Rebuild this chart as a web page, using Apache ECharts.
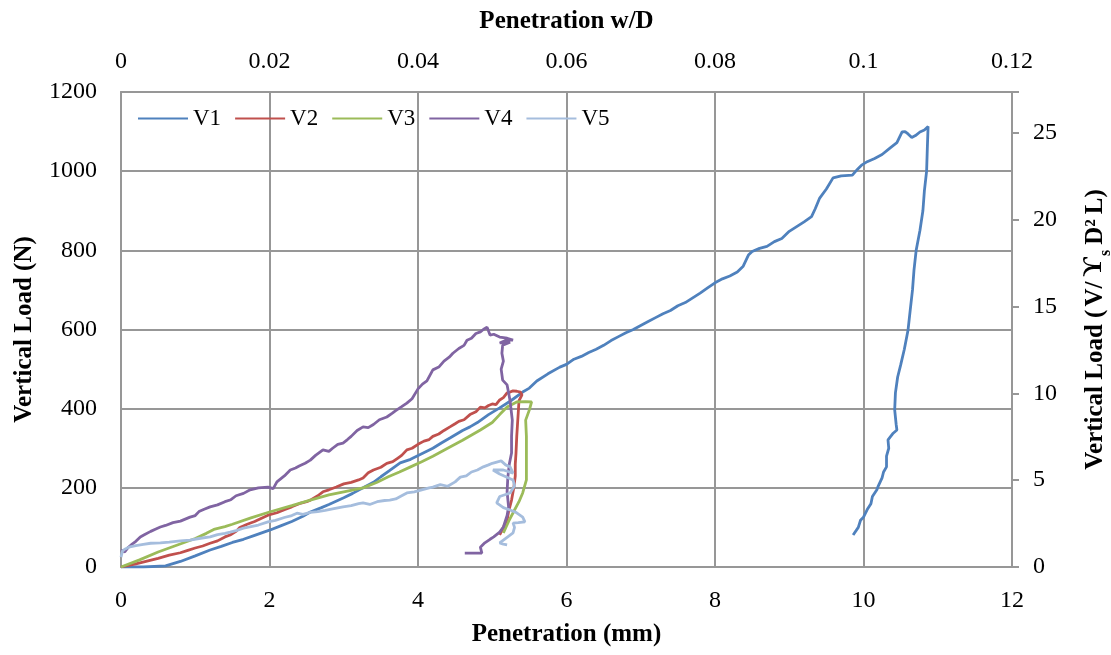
<!DOCTYPE html>
<html>
<head>
<meta charset="utf-8">
<script src="https://cdn.jsdelivr.net/npm/echarts@6/dist/echarts.min.js"></script>
<style>html,body{margin:0;padding:0;background:#fff}#c{width:1111px;height:655px}</style>
</head>
<body>
<div id="c"></div>
<script>
// Each point: [penetration (mm), vertical load (N)]
const v1 = [[0,0],[0.3,0],[0.6,3],[0.8,14],[1.0,28],[1.2,43],[1.35,52],[1.5,62],[1.65,70],[1.8,80],[2.0,93],[2.15,104],[2.3,115],[2.45,128],[2.55,139],[2.7,150],[2.8,158],[3.0,175],[3.12,186],[3.26,200],[3.4,214],[3.5,228],[3.62,244],[3.76,263],[3.9,272],[4.05,286],[4.2,300],[4.32,314],[4.43,326],[4.6,345],[4.7,354],[4.8,365],[4.95,385],[5.1,402],[5.25,420],[5.41,442],[5.5,452],[5.6,470],[5.75,488],[5.91,505],[6.0,512],[6.1,525],[6.2,532],[6.3,542],[6.4,550],[6.5,560],[6.6,572],[6.7,582],[6.8,592],[6.9,600],[7.0,610],[7.1,620],[7.2,630],[7.3,640],[7.4,648],[7.5,660],[7.6,668],[7.7,680],[7.8,692],[7.9,705],[8.0,718],[8.1,728],[8.2,735],[8.3,745],[8.38,760],[8.45,788],[8.5,797],[8.6,805],[8.7,810],[8.8,822],[8.9,830],[9.0,848],[9.1,860],[9.2,872],[9.3,885],[9.35,905],[9.41,932],[9.5,955],[9.59,983],[9.7,988],[9.85,990],[9.92,1005],[9.98,1016],[10.05,1024],[10.15,1032],[10.25,1042],[10.36,1059],[10.45,1072],[10.52,1099],[10.56,1100],[10.6,1094],[10.65,1085],[10.7,1090],[10.76,1099],[10.82,1104],[10.87,1113],[10.86,1060],[10.85,1000],[10.82,950],[10.8,900],[10.76,850],[10.71,801],[10.68,750],[10.66,700],[10.63,650],[10.6,599],[10.55,550],[10.5,510],[10.46,480],[10.43,440],[10.42,397],[10.44,360],[10.45,346],[10.4,338],[10.33,321],[10.34,300],[10.31,280],[10.31,253],[10.27,240],[10.25,225],[10.2,205],[10.18,195],[10.12,178],[10.1,160],[10.05,145],[10.0,126],[9.96,118],[9.93,100],[9.86,81]];

const v2 = [[0,0],[0.1,4],[0.2,8],[0.35,15],[0.5,22],[0.65,30],[0.8,36],[0.9,42],[1.0,48],[1.1,53],[1.2,60],[1.3,66],[1.4,76],[1.47,81],[1.55,90],[1.6,100],[1.7,108],[1.8,115],[1.9,124],[1.98,131],[2.1,137],[2.2,145],[2.3,152],[2.4,160],[2.5,165],[2.55,169],[2.65,180],[2.72,190],[2.8,195],[2.9,202],[3.0,210],[3.1,214],[3.2,220],[3.26,225],[3.33,238],[3.4,245],[3.5,252],[3.58,262],[3.66,266],[3.72,274],[3.78,282],[3.85,296],[3.92,300],[4.0,310],[4.08,318],[4.15,322],[4.2,330],[4.28,336],[4.35,345],[4.43,354],[4.5,362],[4.55,368],[4.62,372],[4.7,385],[4.78,392],[4.84,404],[4.9,402],[4.95,408],[5.0,412],[5.05,410],[5.1,422],[5.15,428],[5.2,440],[5.24,442],[5.28,445],[5.33,444],[5.38,442],[5.4,435],[5.36,420],[5.35,389],[5.34,360],[5.33,330],[5.32,288],[5.31,260],[5.31,230],[5.29,200],[5.26,169],[5.22,140],[5.2,119],[5.15,100],[5.1,81]];

const v3 = [[0,0],[0.25,18],[0.5,38],[0.75,55],[1.0,72],[1.15,85],[1.25,95],[1.4,102],[1.5,108],[1.75,124],[2.0,139],[2.3,155],[2.55,169],[2.8,182],[3.0,190],[3.26,200],[3.45,214],[3.6,228],[3.75,240],[3.9,253],[4.05,266],[4.2,280],[4.43,303],[4.6,320],[4.84,346],[5.0,365],[5.1,385],[5.2,404],[5.33,417],[5.45,418],[5.53,417],[5.5,397],[5.45,371],[5.46,330],[5.46,300],[5.46,260],[5.46,220],[5.41,187],[5.36,165],[5.3,144],[5.22,115],[5.15,86]];

const v4 = [[0,43],[0.05,38],[0.1,50],[0.15,58],[0.2,65],[0.26,76],[0.32,82],[0.4,90],[0.47,96],[0.53,101],[0.6,105],[0.7,112],[0.8,116],[0.93,126],[1.0,130],[1.05,140],[1.12,146],[1.2,152],[1.3,157],[1.4,165],[1.48,170],[1.55,180],[1.65,186],[1.74,195],[1.85,200],[1.98,202],[2.05,198],[2.1,215],[2.2,230],[2.28,245],[2.35,250],[2.4,255],[2.48,262],[2.55,270],[2.62,282],[2.72,296],[2.8,292],[2.85,300],[2.92,310],[2.99,313],[3.05,322],[3.1,330],[3.18,345],[3.26,354],[3.33,352],[3.4,360],[3.48,372],[3.58,379],[3.65,388],[3.7,395],[3.78,405],[3.85,414],[3.92,425],[4.0,450],[4.06,462],[4.12,470],[4.2,498],[4.28,505],[4.35,520],[4.42,530],[4.47,540],[4.55,552],[4.62,560],[4.66,573],[4.72,578],[4.78,590],[4.84,594],[4.88,600],[4.93,606],[4.97,586],[5.02,588],[5.1,581],[5.2,578],[5.28,573],[5.2,574],[5.1,566],[5.24,568],[5.14,560],[5.13,540],[5.15,520],[5.12,500],[5.14,472],[5.2,460],[5.22,440],[5.24,420],[5.27,371],[5.26,330],[5.26,288],[5.23,260],[5.21,227],[5.2,190],[5.22,152],[5.2,130],[5.15,101],[5.1,88],[5.02,76],[4.97,70],[4.9,61],[4.84,50],[4.86,35],[4.84,38],[4.75,35],[4.63,35]];

const v5 = [[0,25],[0.02,40],[0.05,45],[0.12,51],[0.2,54],[0.3,57],[0.4,60],[0.53,61],[0.65,63],[0.8,66],[0.93,68],[1.05,72],[1.2,76],[1.3,82],[1.4,85],[1.47,88],[1.55,92],[1.65,98],[1.75,102],[1.85,106],[1.98,114],[2.08,118],[2.2,125],[2.3,130],[2.37,136],[2.45,133],[2.55,138],[2.65,140],[2.75,143],[2.85,147],[2.99,152],[3.1,155],[3.2,160],[3.26,162],[3.35,158],[3.45,165],[3.55,168],[3.62,169],[3.7,172],[3.78,180],[3.85,187],[3.95,190],[4.05,195],[4.15,200],[4.2,202],[4.3,208],[4.4,204],[4.5,215],[4.57,227],[4.65,230],[4.72,240],[4.8,245],[4.88,253],[4.95,258],[5.0,262],[5.06,265],[5.12,268],[5.18,258],[5.24,253],[5.28,237],[5.15,245],[5.01,245],[5.1,235],[5.28,220],[5.3,205],[5.24,187],[5.1,178],[5.06,162],[5.15,150],[5.24,144],[5.32,138],[5.41,126],[5.44,114],[5.35,112],[5.28,111],[5.3,100],[5.28,86],[5.2,75],[5.1,61],[5.15,58],[5.2,56]];

const names  = ['V1','V2','V3','V4','V5'];
const colors = ['#4F81BD','#C0504D','#9BBB59','#8064A2','#A5BDDD'];
const dataSets = [v1, v2, v3, v4, v5];
const bottomTicks = {min: 0, max: 12, interval: 2};
const topTicks = {min: 0, max: 0.12, interval: 0.02};
const leftTicks = {min: 0, max: 1200, interval: 200};
const rightTicks = {min: 0, max: 27.36, interval: 5};

const FONT = 'Liberation Serif';
const GRID = '#979797';

const chart = echarts.init(document.getElementById('c'), null, {renderer: 'canvas'});
const series = names.map((n, i) => ({
  name: n, type: 'line', xAxisIndex: 0, yAxisIndex: 0,
  data: dataSets[i],
  showSymbol: false, symbol: 'none', smooth: false,
  lineStyle: {color: colors[i], width: 2.8},
  itemStyle: {color: colors[i]},
  animation: false
}));

const lineStyle = {color: GRID, width: 2};
const tok = (size, pad) => ({fontFamily: FONT, fontSize: size, fontWeight: 'bold', color: '#000',
  lineHeight: 28, verticalAlign: 'bottom', padding: pad});

chart.setOption({
  animation: false,
  backgroundColor: '#fff',
  grid: {left: 121, right: 99, top: 92, bottom: 88, containLabel: false, outerBoundsMode: 'none'},
  legend: {
    data: names, left: 133, top: 102, itemWidth: 50, itemHeight: 14, itemGap: 14,
    icon: 'path://M0,6L50,6L50,8L0,8Z',
    textStyle: {fontFamily: FONT, fontSize: 23, color: '#000'}
  },
  xAxis: [{
    type: 'value', position: 'bottom', ...bottomTicks,
    name: 'Penetration (mm)', nameLocation: 'middle', nameGap: 55,
    nameTextStyle: {fontFamily: FONT, fontSize: 25, fontWeight: 'bold', color: '#000'},
    axisLine: {show: true, onZero: false, lineStyle},
    axisTick: {show: false},
    axisLabel: {fontFamily: FONT, fontSize: 24, color: '#000', margin: 22, formatter: v => String(v)},
    splitLine: {show: true, lineStyle}
  }, {
    type: 'value', position: 'top', ...topTicks,
    name: 'Penetration w/D', nameLocation: 'middle', nameGap: 58,
    nameTextStyle: {fontFamily: FONT, fontSize: 25, fontWeight: 'bold', color: '#000'},
    axisLine: {show: true, onZero: false, lineStyle},
    axisTick: {show: false},
    axisLabel: {fontFamily: FONT, fontSize: 24, color: '#000', margin: 18,
      formatter: v => String(+v.toFixed(2))},
    splitLine: {show: false}
  }],
  yAxis: [{
    type: 'value', position: 'left', ...leftTicks,
    name: 'Vertical Load (N)', nameLocation: 'middle', nameGap: 84,
    nameTextStyle: {fontFamily: FONT, fontSize: 25, fontWeight: 'bold', color: '#000'},
    axisLine: {show: true, onZero: false, lineStyle},
    axisTick: {show: false},
    axisLabel: {fontFamily: FONT, fontSize: 24, color: '#000', margin: 24, formatter: v => String(v)},
    splitLine: {show: true, lineStyle}
  }, {
    type: 'value', position: 'right', ...rightTicks,
    name: '{n|Vertical Load (}{v|V/}{g|ϒ}{s|s}{d|D²}{l|L)}', nameLocation: 'middle', nameGap: 68,
    nameTextStyle: {fontFamily: FONT, fontSize: 25, fontWeight: 'bold', color: '#000',
      rich: {
        n: tok(25, [0, 1, 0, 0]),
        v: tok(25, [0, 3, 0, 2]),
        g: tok(27, [0, 1, 0, 2]),
        s: Object.assign(tok(16, [0, 3, -6, 0])),
        d: tok(25, [0, 3, 0, 2]),
        l: tok(25, [0, 0, 0, 2])
      }},
    axisLine: {show: true, onZero: false, lineStyle},
    axisTick: {show: true, inside: false, length: 7, lineStyle},
    axisLabel: {fontFamily: FONT, fontSize: 24, color: '#000', margin: 21,
      formatter: v => (Math.abs(v % 5) < 1e-9 ? String(v) : '')},
    splitLine: {show: false}
  }],
  series: series
});
</script>
</body>
</html>
